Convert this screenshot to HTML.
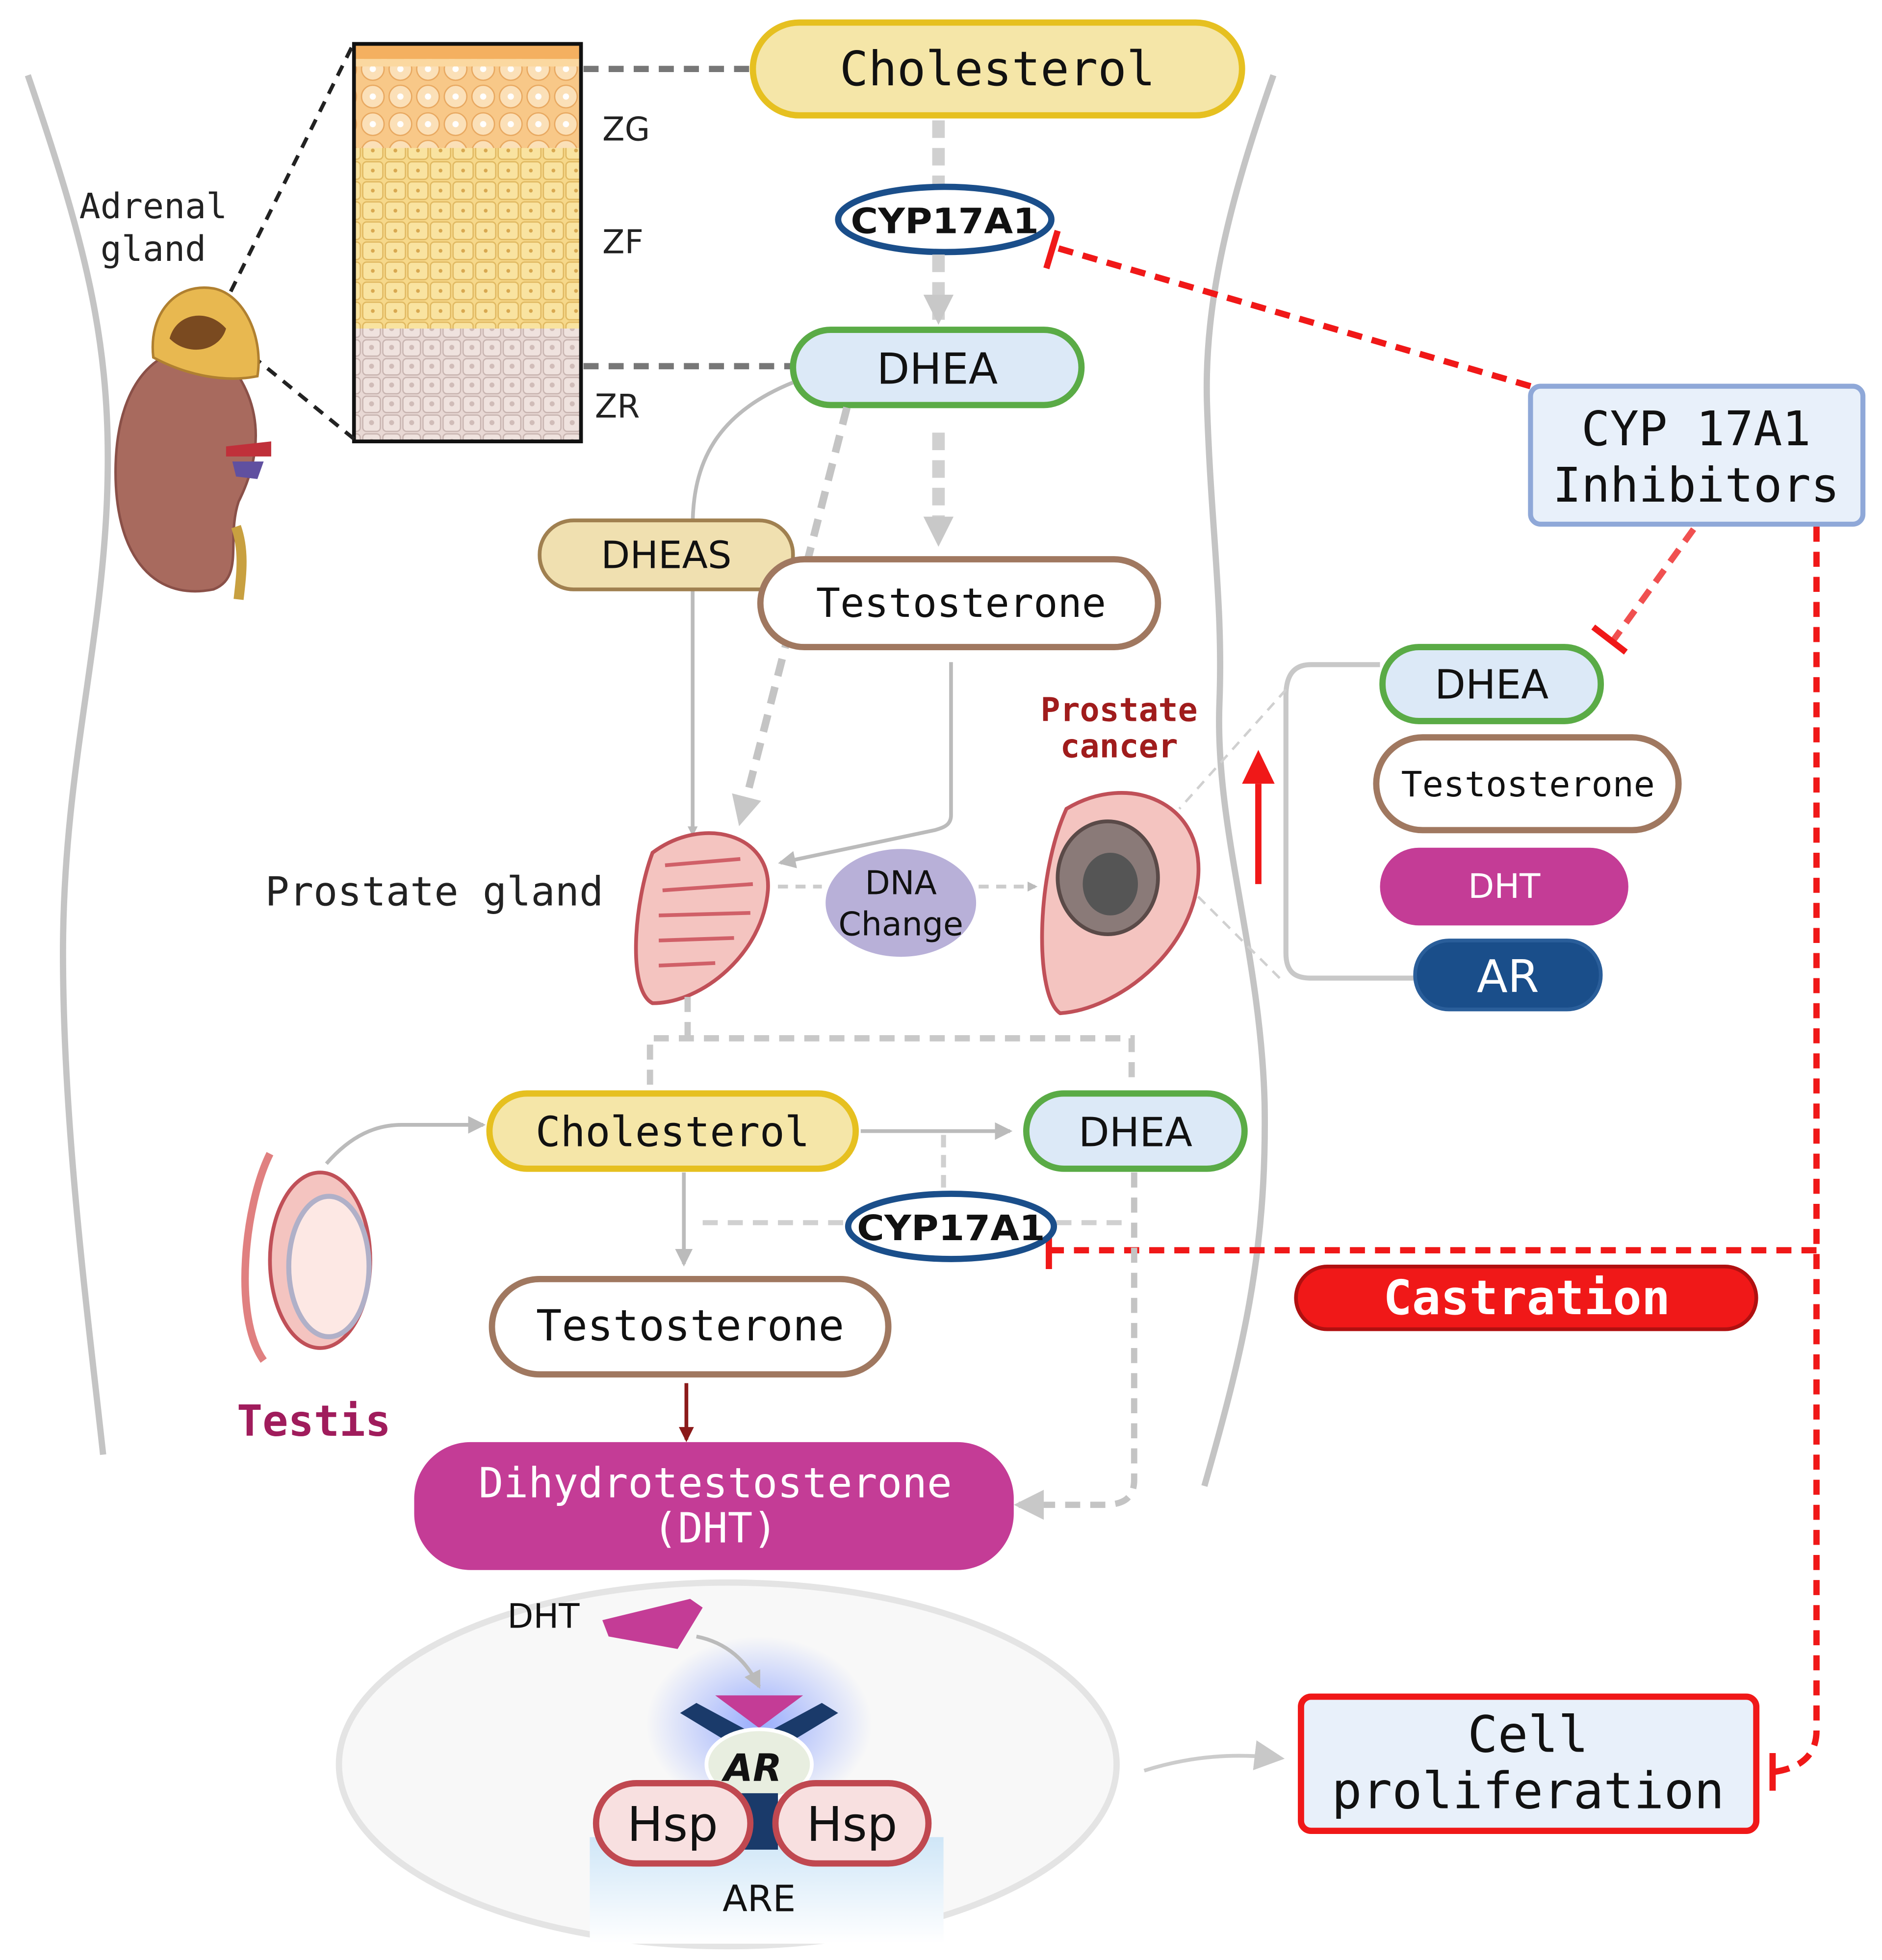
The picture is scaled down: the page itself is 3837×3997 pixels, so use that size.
<!DOCTYPE html>
<html><head><meta charset="utf-8">
<style>
html,body{margin:0;padding:0;background:#fff;}
svg{display:block;}
.m{font-family:"DejaVu Sans Mono","Liberation Mono",monospace;}
.s{font-family:"DejaVu Sans","Liberation Sans",sans-serif;}
</style></head>
<body>
<svg width="3837" height="3997" viewBox="0 0 1500 1563" xmlns="http://www.w3.org/2000/svg">
<defs>
<marker id="ag" markerWidth="8" markerHeight="8" refX="6" refY="4" orient="auto" markerUnits="userSpaceOnUse"><path d="M0,0 L8,4 L0,8z" fill="#bbb"/></marker>
<marker id="agb" markerWidth="24" markerHeight="24" refX="20" refY="12" orient="auto" markerUnits="userSpaceOnUse"><path d="M0,0 L24,12 L0,24z" fill="#c8c8c8"/></marker>
<marker id="ar" markerWidth="12" markerHeight="12" refX="10" refY="6" orient="auto" markerUnits="userSpaceOnUse"><path d="M0,0 L12,6 L0,12z" fill="#8b1a1a"/></marker>
<marker id="agm" markerWidth="14" markerHeight="14" refX="12" refY="7" orient="auto" markerUnits="userSpaceOnUse"><path d="M0,0 L14,7 L0,14z" fill="#bbb"/></marker>
<radialGradient id="glow"><stop offset="0" stop-color="#6f8cff" stop-opacity=".7"/><stop offset="1" stop-color="#6f8cff" stop-opacity="0"/></radialGradient>
<linearGradient id="are" x1="0" y1="0" x2="0" y2="1"><stop offset="0" stop-color="#cfe6f7"/><stop offset="1" stop-color="#fff"/></linearGradient>
<pattern id="cells" width="18" height="16" patternUnits="userSpaceOnUse"><rect width="18" height="16" fill="#f6d88a"/><rect x="1" y="1" width="16" height="14" rx="3" fill="#f9e3a0" stroke="#e0b860" stroke-width="1"/><circle cx="9" cy="8" r="1.5" fill="#d8a850"/></pattern>
<pattern id="zr" width="16" height="15" patternUnits="userSpaceOnUse"><rect width="16" height="15" fill="#e8d8d4"/><rect x="1" y="1" width="14" height="13" rx="3" fill="#efe2de" stroke="#c8b4b0" stroke-width="1"/><circle cx="8" cy="7" r="2" fill="#d0bcb8"/></pattern>
<pattern id="zg" width="22" height="22" patternUnits="userSpaceOnUse"><rect width="22" height="22" fill="#f8c888"/><circle cx="11" cy="11" r="9" fill="#fbe0b8" stroke="#e8a860" stroke-width="1"/><circle cx="11" cy="11" r="2.5" fill="#fff"/></pattern>
</defs>

<path d="M22,60 C70,200 90,280 85,400 C80,520 50,620 50,760 C50,900 70,1050 82,1160" fill="none" stroke="#c4c4c4" stroke-width="5"/>
<path d="M1015,60 C980,160 960,240 962,320 C965,420 975,480 972,560 C968,660 1005,760 1008,880 C1010,1000 990,1080 960,1185" fill="none" stroke="#c4c4c4" stroke-width="5"/>

<rect x="282" y="35" width="181" height="317" fill="url(#cells)"/>
<rect x="282" y="35" width="181" height="12" fill="#f4b060"/>
<rect x="282" y="47" width="181" height="6" fill="#fbd8a0"/>
<rect x="282" y="53" width="181" height="65" fill="url(#zg)"/>
<rect x="282" y="262" width="181" height="90" fill="url(#zr)"/>
<rect x="282" y="35" width="181" height="317" fill="none" stroke="#111" stroke-width="3"/>
<text x="480" y="112" class="s" font-size="26" fill="#222">ZG</text>
<text x="480" y="202" class="s" font-size="26" fill="#222">ZF</text>
<text x="474" y="333" class="s" font-size="26" fill="#222">ZR</text>
<line x1="280" y1="38" x2="180" y2="240" stroke="#222" stroke-width="3" stroke-dasharray="9,7"/>
<line x1="282" y1="350" x2="190" y2="275" stroke="#222" stroke-width="3" stroke-dasharray="9,7"/>
<line x1="465" y1="55" x2="598" y2="55" stroke="#777" stroke-width="5" stroke-dasharray="12,8"/>
<line x1="465" y1="292" x2="632" y2="292" stroke="#777" stroke-width="5" stroke-dasharray="12,8"/>

<text x="122" y="174" class="m" font-size="28" fill="#222" text-anchor="middle">Adrenal</text>
<text x="122" y="208" class="m" font-size="28" fill="#222" text-anchor="middle">gland</text>
<path d="M190,300 C215,340 200,380 190,400 C180,430 195,460 170,470 C120,480 90,440 92,370 C94,300 130,270 170,280 Z" fill="#a86a5e" stroke="#8a5048" stroke-width="2"/>
<path d="M188,420 C195,440 192,460 190,478" stroke="#c8a040" stroke-width="8" fill="none"/>
<path d="M180,356 L216,352 L216,364 L180,364Z" fill="#c0303a"/>
<path d="M185,368 L210,368 L205,382 L188,380Z" fill="#6050a0"/>
<path d="M122,285 C118,250 140,225 170,230 C195,235 210,270 205,300 C180,305 150,300 122,285 Z" fill="#e8b850" stroke="#b08030" stroke-width="2"/>
<path d="M135,270 C140,250 165,245 180,262 C175,280 150,285 135,270Z" fill="#7a4a20"/>

<rect x="600" y="18" width="390" height="74" rx="37" fill="#f5e6a8" stroke="#e6c020" stroke-width="5"/>
<text x="795" y="68" class="m" font-size="38" fill="#111" text-anchor="middle">Cholesterol</text>
<line x1="748" y1="96" x2="748" y2="148" stroke="#d0d0d0" stroke-width="10" stroke-dasharray="14,8"/>
<ellipse cx="753" cy="175" rx="85" ry="26" fill="#fff" stroke="#1a4e8a" stroke-width="5"/>
<text x="753" y="186" class="s" font-size="28" font-weight="bold" fill="#111" text-anchor="middle" textLength="150" lengthAdjust="spacingAndGlyphs">CYP17A1</text>
<line x1="748" y1="203" x2="748" y2="255" stroke="#d0d0d0" stroke-width="10" stroke-dasharray="14,8" marker-end="url(#agb)"/>

<rect x="632" y="263" width="230" height="60" rx="30" fill="#dce9f7" stroke="#5aab46" stroke-width="5"/>
<text x="747" y="306" class="s" font-size="34" fill="#111" text-anchor="middle">DHEA</text>
<line x1="748" y1="345" x2="748" y2="432" stroke="#d0d0d0" stroke-width="10" stroke-dasharray="14,8" marker-end="url(#agb)"/>
<path d="M632,305 C570,330 552,370 552,420 L552,665" fill="none" stroke="#bbb" stroke-width="3" marker-end="url(#ag)"/>
<line x1="675" y1="325" x2="590" y2="655" stroke="#c4c4c4" stroke-width="6" stroke-dasharray="14,9" marker-end="url(#agb)"/>

<rect x="430" y="415" width="202" height="55" rx="27" fill="#f0e0b0" stroke="#a08050" stroke-width="3"/>
<text x="531" y="453" class="s" font-size="30" fill="#111" text-anchor="middle">DHEAS</text>
<rect x="606" y="446" width="317" height="70" rx="35" fill="#fff" stroke="#a07860" stroke-width="5"/>
<text x="766" y="492" class="m" font-size="32" fill="#111" text-anchor="middle">Testosterone</text>
<path d="M758,528 L758,650 C758,658 752,660 745,662 L622,688" fill="none" stroke="#bbb" stroke-width="3" marker-end="url(#agm)"/>

<rect x="1220" y="308" width="265" height="110" rx="8" fill="#e8f0fa" stroke="#8fa8d8" stroke-width="4"/>
<text x="1352" y="355" class="m" font-size="38" fill="#111" text-anchor="middle">CYP 17A1</text>
<text x="1352" y="400" class="m" font-size="38" fill="#111" text-anchor="middle">Inhibitors</text>
<line x1="1220" y1="308" x2="840" y2="197" stroke="#f01818" stroke-width="5" stroke-dasharray="12,8"/>
<line x1="843" y1="184" x2="834" y2="214" stroke="#f01818" stroke-width="5"/>
<line x1="1350" y1="422" x2="1285" y2="512" stroke="#f05050" stroke-width="5" stroke-dasharray="12,8"/>
<line x1="1270" y1="500" x2="1296" y2="520" stroke="#f01818" stroke-width="5"/>
<path d="M1448,420 L1448,1380 C1448,1400 1435,1410 1414,1413" fill="none" stroke="#f01818" stroke-width="5" stroke-dasharray="12,8"/>
<line x1="1413" y1="1398" x2="1413" y2="1428" stroke="#f01818" stroke-width="5"/>
<line x1="1448" y1="997" x2="838" y2="997" stroke="#f01818" stroke-width="5" stroke-dasharray="12,8"/>
<line x1="836" y1="982" x2="836" y2="1012" stroke="#f01818" stroke-width="5"/>

<text x="892" y="575" class="m" font-size="26" font-weight="bold" fill="#a01c1c" text-anchor="middle">Prostate</text>
<text x="892" y="604" class="m" font-size="26" font-weight="bold" fill="#a01c1c" text-anchor="middle">cancer</text>
<line x1="1003" y1="705" x2="1003" y2="625" stroke="#f01818" stroke-width="5"/>
<path d="M990,625 L1003,598 L1016,625Z" fill="#f01818"/>
<path d="M1100,530 L1045,530 C1030,530 1025,540 1025,555 L1025,760 C1025,775 1032,780 1045,780 L1128,780" fill="none" stroke="#c8c8c8" stroke-width="4"/>
<line x1="1025" y1="550" x2="940" y2="645" stroke="#d0d0d0" stroke-width="2" stroke-dasharray="8,6"/>
<line x1="1020" y1="780" x2="955" y2="715" stroke="#d0d0d0" stroke-width="2" stroke-dasharray="8,6"/>
<rect x="1102" y="516" width="174" height="59" rx="29" fill="#dce9f7" stroke="#5aab46" stroke-width="5"/>
<text x="1189" y="557" class="s" font-size="32" fill="#111" text-anchor="middle">DHEA</text>
<rect x="1097" y="588" width="241" height="74" rx="37" fill="#fff" stroke="#a07860" stroke-width="5"/>
<text x="1218" y="635" class="m" font-size="28" fill="#111" text-anchor="middle">Testosterone</text>
<rect x="1100" y="676" width="198" height="62" rx="31" fill="#c43c96"/>
<text x="1199" y="716" class="s" font-size="27" fill="#fff" text-anchor="middle">DHT</text>
<rect x="1128" y="750" width="148" height="55" rx="27" fill="#1a4e8a" stroke="#2a5e9a" stroke-width="3"/>
<text x="1202" y="791" class="s" font-size="36" fill="#fff" text-anchor="middle">AR</text>

<text x="346" y="722" class="m" font-size="32" fill="#222" text-anchor="middle">Prostate gland</text>
<path d="M520,680 C560,650 615,665 612,710 C608,760 560,800 520,800 C500,790 505,720 520,680Z" fill="#f4c4c0" stroke="#c05058" stroke-width="3"/>
<g stroke="#d06068" stroke-width="3">
<line x1="530" y1="690" x2="590" y2="685"/><line x1="528" y1="710" x2="600" y2="705"/><line x1="525" y1="730" x2="598" y2="728"/><line x1="525" y1="750" x2="585" y2="748"/><line x1="525" y1="770" x2="570" y2="768"/></g>
<line x1="620" y1="707" x2="655" y2="707" stroke="#ccc" stroke-width="3" stroke-dasharray="8,6"/>
<ellipse cx="718" cy="720" rx="60" ry="43" fill="#b8b0d8"/>
<text x="718" y="713" class="s" font-size="26" fill="#111" text-anchor="middle">DNA</text>
<text x="718" y="746" class="s" font-size="26" fill="#111" text-anchor="middle">Change</text>
<line x1="780" y1="707" x2="825" y2="707" stroke="#ccc" stroke-width="3" stroke-dasharray="8,6" marker-end="url(#ag)"/>
<path d="M850,645 C900,615 960,640 955,700 C950,760 890,805 845,808 C825,795 825,700 850,645Z" fill="#f4c4c0" stroke="#c05058" stroke-width="3"/>
<ellipse cx="883" cy="700" rx="40" ry="45" fill="#8a7a78" stroke="#5a4a48" stroke-width="3"/>
<ellipse cx="885" cy="705" rx="22" ry="25" fill="#555"/>

<path d="M548,795 L548,828 M518,865 L518,828 L902,828 L902,865" fill="none" stroke="#c8c8c8" stroke-width="5" stroke-dasharray="12,8"/>

<path d="M260,928 C280,905 300,897 320,897 L385,897" fill="none" stroke="#bbb" stroke-width="3" marker-end="url(#agm)"/>
<ellipse cx="255" cy="1005" rx="40" ry="70" fill="#f4c4c0" stroke="#c05058" stroke-width="3"/>
<ellipse cx="262" cy="1010" rx="32" ry="56" fill="#fde8e4" stroke="#b0b0c8" stroke-width="4"/>
<path d="M215,920 C195,960 185,1050 210,1085" fill="none" stroke="#e08080" stroke-width="6"/>
<text x="250" y="1145" class="m" font-size="34" font-weight="bold" fill="#a01c5c" text-anchor="middle">Testis</text>

<rect x="390" y="872" width="292" height="60" rx="30" fill="#f5e6a8" stroke="#e6c020" stroke-width="5"/>
<text x="536" y="914" class="m" font-size="33" fill="#111" text-anchor="middle">Cholesterol</text>
<line x1="686" y1="902" x2="805" y2="902" stroke="#bbb" stroke-width="3" marker-end="url(#agm)"/>
<rect x="818" y="872" width="174" height="60" rx="30" fill="#dce9f7" stroke="#5aab46" stroke-width="5"/>
<text x="905" y="914" class="s" font-size="32" fill="#111" text-anchor="middle">DHEA</text>
<line x1="752" y1="905" x2="752" y2="950" stroke="#d0d0d0" stroke-width="4" stroke-dasharray="10,6"/>
<line x1="545" y1="935" x2="545" y2="1008" stroke="#bbb" stroke-width="3" marker-end="url(#agm)"/>
<line x1="560" y1="975" x2="675" y2="975" stroke="#d0d0d0" stroke-width="4" stroke-dasharray="12,8"/>
<line x1="842" y1="975" x2="900" y2="975" stroke="#d0d0d0" stroke-width="4" stroke-dasharray="12,8"/>
<ellipse cx="758" cy="978" rx="82" ry="26" fill="#fff" stroke="#1a4e8a" stroke-width="5"/>
<text x="758" y="989" class="s" font-size="28" font-weight="bold" fill="#111" text-anchor="middle" textLength="150" lengthAdjust="spacingAndGlyphs">CYP17A1</text>
<path d="M904,935 L904,1180 C904,1195 895,1200 880,1200 L812,1200" fill="none" stroke="#c4c4c4" stroke-width="5" stroke-dasharray="12,8" marker-end="url(#agb)"/>

<rect x="1033" y="1010" width="367" height="50" rx="25" fill="#f01818" stroke="#b01010" stroke-width="3"/>
<text x="1217" y="1048" class="m" font-size="38" font-weight="bold" fill="#fff" text-anchor="middle">Castration</text>

<rect x="392" y="1020" width="316" height="76" rx="38" fill="#fff" stroke="#a07860" stroke-width="5"/>
<text x="550" y="1069" class="m" font-size="34" fill="#111" text-anchor="middle">Testosterone</text>
<line x1="547" y1="1103" x2="547" y2="1148" stroke="#8b1a1a" stroke-width="3" marker-end="url(#ar)"/>

<rect x="330" y="1150" width="478" height="102" rx="45" fill="#c43c96"/>
<text x="570" y="1194" class="m" font-size="33" fill="#fff" text-anchor="middle">Dihydrotestosterone</text>
<text x="570" y="1230" class="m" font-size="33" fill="#fff" text-anchor="middle">(DHT)</text>

<ellipse cx="580" cy="1407" rx="310" ry="145" fill="#f8f8f8" stroke="#e4e4e4" stroke-width="5"/>
<rect x="470" y="1465" width="282" height="85" fill="url(#are)"/>
<ellipse cx="605" cy="1375" rx="90" ry="70" fill="url(#glow)"/>
<text x="433" y="1298" class="s" font-size="27" fill="#111" text-anchor="middle">DHT</text>
<path d="M480,1292 L550,1275 L560,1282 L540,1315 L485,1305Z" fill="#c43c96"/>
<path d="M555,1305 C580,1310 595,1325 605,1345" fill="none" stroke="#bbb" stroke-width="3" marker-end="url(#agm)"/>
<path d="M555,1358 L605,1385 L655,1358 L668,1366 L612,1400 L598,1400 L542,1366Z" fill="#1a3a6a"/>
<path d="M570,1352 L640,1352 L605,1378Z" fill="#c43c96"/>
<ellipse cx="605" cy="1407" rx="42" ry="28" fill="#e8eee0" stroke="#fff" stroke-width="3"/>
<text x="600" y="1420" class="s" font-size="30" font-weight="bold" font-style="italic" fill="#111" text-anchor="middle">AR</text>
<rect x="588" y="1430" width="32" height="45" fill="#1a3a6a"/>
<rect x="475" y="1422" width="123" height="64" rx="32" fill="#f8e0e0" stroke="#c04850" stroke-width="5"/>
<text x="536" y="1468" class="s" font-size="38" fill="#111" text-anchor="middle">Hsp</text>
<rect x="618" y="1422" width="122" height="64" rx="32" fill="#f8e0e0" stroke="#c04850" stroke-width="5"/>
<text x="679" y="1468" class="s" font-size="38" fill="#111" text-anchor="middle">Hsp</text>
<text x="605" y="1524" class="s" font-size="29" fill="#111" text-anchor="middle">ARE</text>

<path d="M912,1412 C950,1400 985,1398 1020,1402" fill="none" stroke="#ccc" stroke-width="3" marker-end="url(#agb)"/>

<rect x="1037" y="1353" width="363" height="107" rx="8" fill="#e8f0fa" stroke="#f01818" stroke-width="5"/>
<text x="1218" y="1397" class="m" font-size="40" fill="#111" text-anchor="middle">Cell</text>
<text x="1218" y="1442" class="m" font-size="40" fill="#111" text-anchor="middle">proliferation</text>
</svg>
</body></html>
